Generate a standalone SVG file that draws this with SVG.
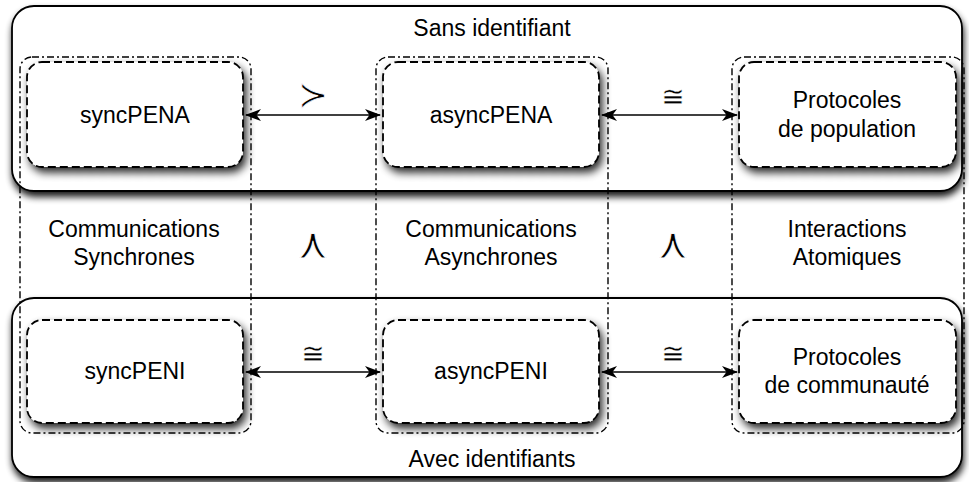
<svg xmlns="http://www.w3.org/2000/svg" width="969" height="482" viewBox="0 0 969 482">
<style>
.big{fill:#fff;stroke:#000;stroke-width:1.8;filter:url(#sh)}
.col{fill:none;stroke:#000;stroke-width:1.4;stroke-dasharray:7 3 2 3}
.node{fill:#fff;stroke:#000;stroke-width:1.8;stroke-dasharray:8 4;filter:url(#sh2)}
.t{font-family:"Liberation Sans",Arial,sans-serif;font-size:23px;text-anchor:middle;fill:#000}
.s{font-family:"DejaVu Sans",sans-serif;font-size:28px;text-anchor:middle;fill:#000;stroke:#fff;stroke-width:0.4}
.w{font-family:"DejaVu Sans",sans-serif;font-size:36px;text-anchor:middle;fill:#000;stroke:#fff;stroke-width:0.8}
.v{font-family:"DejaVu Sans",sans-serif;font-size:42px;text-anchor:middle;fill:#000;stroke:#fff;stroke-width:0.9}
.c{stroke:#000;stroke-width:1.5;fill:none;marker-start:url(#ah);marker-end:url(#ah)}
</style>
<defs>
<filter id="sh" x="-5%" y="-10%" width="110%" height="130%">
<feGaussianBlur in="SourceAlpha" stdDeviation="3.5"/>
<feOffset dx="1" dy="5" result="b"/>
<feComponentTransfer><feFuncA type="linear" slope="0.9"/></feComponentTransfer>
<feMerge><feMergeNode/><feMergeNode in="SourceGraphic"/></feMerge>
</filter>
<filter id="sh2" x="-10%" y="-15%" width="125%" height="145%">
<feGaussianBlur in="SourceAlpha" stdDeviation="4"/>
<feOffset dx="3" dy="5" result="b"/>
<feComponentTransfer><feFuncA type="linear" slope="0.85"/></feComponentTransfer>
<feMerge><feMergeNode/><feMergeNode in="SourceGraphic"/></feMerge>
</filter>
<marker id="ah" viewBox="0 0 16 12" refX="15" refY="6" markerWidth="16" markerHeight="12" markerUnits="userSpaceOnUse" orient="auto-start-reverse">
<path d="M0,0 L16,6 L0,12 L4.5,6 Z" fill="#000"/>
</marker>
</defs>

<g id="sans-identifiant">
<rect class="big" x="12" y="6" width="950" height="185" rx="22"/>
<text class="t" x="492" y="36">Sans identifiant</text>
</g>
<g id="avec-identifiants">
<rect class="big" x="12" y="298" width="950" height="179" rx="22"/>
<text class="t" x="492" y="467">Avec identifiants</text>
</g>

<g id="col-sync">
<rect class="col" x="20" y="57" width="231" height="376" rx="12"/>
<text class="t" x="134" y="237">Communications</text>
<text class="t" x="134" y="265">Synchrones</text>
</g>
<g id="col-async">
<rect class="col" x="376" y="57" width="232" height="376" rx="12"/>
<text class="t" x="491" y="237">Communications</text>
<text class="t" x="491" y="265">Asynchrones</text>
</g>
<g id="col-atom">
<rect class="col" x="732" y="57" width="232" height="376" rx="12"/>
<text class="t" x="847" y="237">Interactions</text>
<text class="t" x="847" y="265">Atomiques</text>
</g>

<g id="syncPENA">
<rect class="node" x="27" y="62" width="216" height="105" rx="15"/>
<text class="t" x="135" y="123">syncPENA</text>
</g>
<g id="asyncPENA">
<rect class="node" x="383" y="62" width="216" height="105" rx="15"/>
<text class="t" x="491" y="123">asyncPENA</text>
</g>
<g id="protocoles-population">
<rect class="node" x="739" y="62" width="217" height="105" rx="15"/>
<text class="t" x="847" y="108">Protocoles</text>
<text class="t" x="847" y="137">de population</text>
</g>
<g id="syncPENI">
<rect class="node" x="27" y="320" width="216" height="103" rx="15"/>
<text class="t" x="135" y="379">syncPENI</text>
</g>
<g id="asyncPENI">
<rect class="node" x="383" y="320" width="216" height="103" rx="15"/>
<text class="t" x="491" y="379">asyncPENI</text>
</g>
<g id="protocoles-communaute">
<rect class="node" x="739" y="320" width="217" height="103" rx="15"/>
<text class="t" x="847" y="365">Protocoles</text>
<text class="t" x="847" y="393">de communauté</text>
</g>

<g id="connectors">
<line class="c" x1="246" y1="115" x2="380" y2="115"/>
<line class="c" x1="602" y1="115" x2="737" y2="115"/>
<line class="c" x1="246" y1="372" x2="380" y2="372"/>
<line class="c" x1="602" y1="372" x2="737" y2="372"/>
<text class="w" x="313" y="107">≻</text>
<text class="s" x="673" y="106">≅</text>
<text class="s" x="313" y="363">≅</text>
<text class="s" x="673" y="363">≅</text>
<text class="v" x="313" y="258">⋏</text>
<text class="v" x="673" y="258">⋏</text>
</g>
</svg>
